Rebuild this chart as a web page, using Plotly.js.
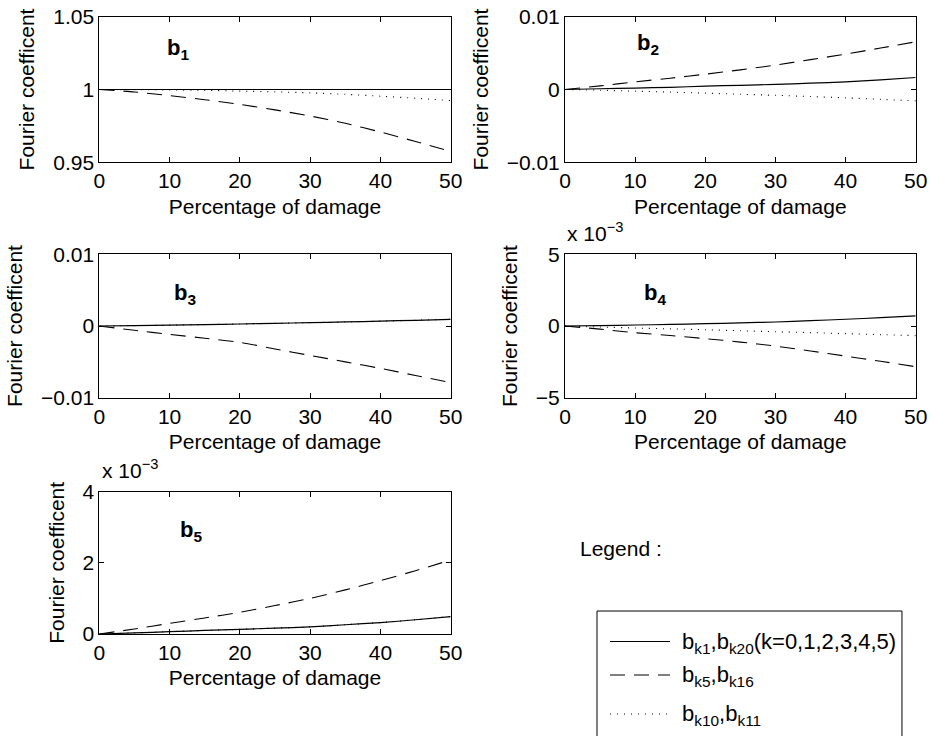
<!DOCTYPE html>
<html>
<head>
<meta charset="utf-8">
<script src="https://cdn.plot.ly/plotly-3.0.1.min.js"></script>
<style>
  html, body { margin: 0; padding: 0; background: #fff; }
  #chart { width: 934px; height: 736px; }
</style>
</head>
<body>
<div id="chart"></div>
<script>
// Percentage of damage (x axis shared by all panels)
const damage = [0, 5, 10, 15, 20, 25, 30, 35, 40, 45, 50];

// b1
const b1_solid  = [1, 1, 1, 1, 1, 1, 1, 1, 1, 1, 1];
const b1_dashed = [1, 0.9983, 0.9958, 0.9930, 0.9898, 0.9860, 0.9818, 0.9768, 0.9708, 0.9643, 0.9575];
const b1_dotted = [1, 0.9999, 0.9997, 0.9994, 0.9989, 0.9984, 0.9977, 0.9967, 0.9954, 0.9940, 0.9924];

// b2
const b2_solid  = [0, 0.0001, 0.0002, 0.0003, 0.00046, 0.00058, 0.0007, 0.00087, 0.00105, 0.00133, 0.00165];
const b2_dashed = [0, 0.0005, 0.00105, 0.00155, 0.0021, 0.0027, 0.00335, 0.0041, 0.00486, 0.0057, 0.00655];
const b2_dotted = [0, -0.0001, -0.00023, -0.00036, -0.0005, -0.00065, -0.0008, -0.00097, -0.00115, -0.00135, -0.00156];

// b3
const b3_solid  = [0, 0.00005, 0.00012, 0.0002, 0.00028, 0.00037, 0.00047, 0.00057, 0.00068, 0.0008, 0.00093];
const b3_dashed = [0, -0.0006, -0.00116, -0.0017, -0.00228, -0.0032, -0.0041, -0.0050, -0.0059, -0.0069, -0.0079];
const b3_dotted = [0, 0.00005, 0.00012, 0.0002, 0.00028, 0.00037, 0.00047, 0.00057, 0.00068, 0.0008, 0.00093];

// b4 (in units of 10^-3)
const b4_solid  = [0, 0.03, 0.07, 0.11, 0.16, 0.22, 0.28, 0.37, 0.47, 0.58, 0.7];
const b4_dashed = [0, -0.22, -0.47, -0.66, -0.88, -1.12, -1.4, -1.74, -2.1, -2.46, -2.84];
const b4_dotted = [0, -0.07, -0.14, -0.2, -0.26, -0.33, -0.4, -0.46, -0.53, -0.6, -0.67];

// b5 (in units of 10^-3)
const b5_solid  = [0, 0.03, 0.065, 0.1, 0.13, 0.165, 0.2, 0.26, 0.32, 0.4, 0.49];
const b5_dashed = [0, 0.14, 0.3, 0.45, 0.61, 0.8, 1.0, 1.24, 1.5, 1.78, 2.08];
const b5_dotted = [0, 0.03, 0.065, 0.1, 0.13, 0.165, 0.2, 0.26, 0.32, 0.4, 0.49];

// Tick labels
const xTicks = [0, 10, 20, 30, 40, 50];
const yTicks1 = [0.95, 1, 1.05];
const yTickText1 = ['0.95', '1', '1.05'];
const yTicks23 = [-0.01, 0, 0.01];
const yTickText23 = ['\u22120.01', '0', '0.01'];
const yTicks4 = [-5, 0, 5];
const yTickText4 = ['\u22125', '0', '5'];
const yTicks5 = [0, 2, 4];
const yTickText5 = ['0', '2', '4'];

// Panel names and legend labels
const panelNames = ['1', '2', '3', '4', '5'];
const seriesNames = [
  'b<sub>k1</sub>,b<sub>k20</sub>(k=0,1,2,3,4,5)',
  'b<sub>k5</sub>,b<sub>k16</sub>',
  'b<sub>k10</sub>,b<sub>k11</sub>'
];

const FONT = 'Liberation Sans, Arial, Helvetica, sans-serif';
const FS = 21;
const styles = [
  { color: 'black', width: 1.2, dash: 'solid' },
  { color: 'black', width: 1.1, dash: '15px,9px' },
  { color: 'black', width: 1.1, dash: '1px,6px' }
];

const panels = [
  [b1_solid, b1_dashed, b1_dotted],
  [b2_solid, b2_dashed, b2_dotted],
  [b3_solid, b3_dashed, b3_dotted],
  [b4_solid, b4_dashed, b4_dotted],
  [b5_solid, b5_dashed, b5_dotted]
];

const traces = [];
panels.forEach((series, p) => {
  const sfx = p === 0 ? '' : String(p + 1);
  // dotted first so solid/dashed sit on top
  [2, 1, 0].forEach(s => {
    traces.push({
      x: damage, y: series[s], type: 'scatter', mode: 'lines',
      xaxis: 'x' + sfx, yaxis: 'y' + sfx,
      line: Object.assign({ shape: 'spline', smoothing: 0.6 }, styles[s]),
      name: seriesNames[s], showlegend: false, hoverinfo: 'skip'
    });
  });
});

const xDomL = [0.1063, 0.4825];
const xDomR = [0.6049, 0.9804];
const yDom = [[0.7795, 0.9773], [0.7795, 0.9773], [0.4596, 0.6545], [0.4596, 0.6545], [0.1386, 0.3319]];
const xDoms = [xDomL, xDomR, xDomL, xDomR, xDomL];
const yRanges = [[0.95, 1.05], [-0.01, 0.01], [-0.01, 0.01], [-5, 5], [0, 4]];
const yTV = [yTicks1, yTicks23, yTicks23, yTicks4, yTicks5];
const yTT = [yTickText1, yTickText23, yTickText23, yTickText4, yTickText5];

function axisBase() {
  return {
    showline: true, linecolor: 'black', linewidth: 1, mirror: 'allticks',
    ticks: 'inside', ticklen: 5, tickcolor: 'black', tickwidth: 1,
    showgrid: false, zeroline: false, fixedrange: true,
    tickfont: { family: FONT, size: FS, color: 'black' }
  };
}

const layout = {
  width: 934, height: 736,
  margin: { l: 0, r: 0, t: 0, b: 0 },
  paper_bgcolor: 'white', plot_bgcolor: 'white',
  font: { family: FONT, size: FS, color: 'black' },
  showlegend: false,
  annotations: [], shapes: []
};

for (let p = 0; p < 5; p++) {
  const sfx = p === 0 ? '' : String(p + 1);
  layout['xaxis' + sfx] = Object.assign(axisBase(), {
    domain: xDoms[p], anchor: 'y' + sfx, range: [0, 50],
    tickvals: xTicks, ticktext: xTicks.map(String),
    title: { text: 'Percentage of damage', font: { family: FONT, size: FS, color: 'black' }, standoff: 7 }
  });
  layout['yaxis' + sfx] = Object.assign(axisBase(), {
    domain: yDom[p], anchor: 'x' + sfx, range: yRanges[p],
    tickvals: yTV[p], ticktext: yTT[p],
    title: { text: 'Fourier coefficent', font: { family: FONT, size: FS, color: 'black' }, standoff: 12 }
  });
}

// panel labels b1..b5, placed in each panel's data coordinates
const labelPos = [[9.35, 1.028], [9.98, 0.0062], [10.35, 0.0045], [10.98, 2.25], [11.2, 2.9]];
labelPos.forEach((pos, p) => {
  const sfx = p === 0 ? '' : String(p + 1);
  layout.annotations.push({
    xref: 'x' + sfx, yref: 'y' + sfx, x: pos[0], y: pos[1],
    xanchor: 'left', yanchor: 'middle', showarrow: false,
    text: '<b>b<sub>' + panelNames[p] + '</sub></b>',
    font: { family: FONT, size: 22, color: 'black' }
  });
});

// exponent multipliers
[[0.6049, 0.6645], [0.107, 0.3425]].forEach(pos => {
  layout.annotations.push({
    xref: 'paper', yref: 'paper', x: pos[0], y: pos[1],
    xanchor: 'left', yanchor: 'bottom', showarrow: false,
    text: 'x 10<sup>\u22123</sup>',
    font: { family: FONT, size: 21, color: 'black' }
  });
});

// "Legend :" caption
layout.annotations.push({
  xref: 'paper', yref: 'paper', x: 0.6188, y: 0.2554,
  xanchor: 'left', yanchor: 'middle', showarrow: false,
  text: 'Legend :', font: { family: FONT, size: 21, color: 'black' }
});

// legend box
layout.shapes.push({
  type: 'rect', xref: 'paper', yref: 'paper',
  x0: 0.6392, x1: 0.9657, y0: -0.1, y1: 0.1698,
  line: { color: 'black', width: 1 }, fillcolor: 'rgba(0,0,0,0)'
});

// legend rows: sample line + label
const rowY = [641.5, 675, 714];
rowY.forEach((py, i) => {
  const yp = 1 - py / 736;
  layout.shapes.push({
    type: 'line', xref: 'paper', yref: 'paper',
    x0: 610 / 934, x1: 670 / 934, y0: yp, y1: yp,
    line: { color: 'black', width: i === 0 ? 1.2 : 1.1, dash: styles[i].dash }
  });
  layout.annotations.push({
    xref: 'paper', yref: 'paper', x: 680 / 934, y: yp - 0.002,
    xanchor: 'left', yanchor: 'middle', showarrow: false,
    text: seriesNames[i], font: { family: FONT, size: 22, color: 'black' }
  });
});

Plotly.newPlot('chart', traces, layout, { displayModeBar: false });
</script>
</body>
</html>
